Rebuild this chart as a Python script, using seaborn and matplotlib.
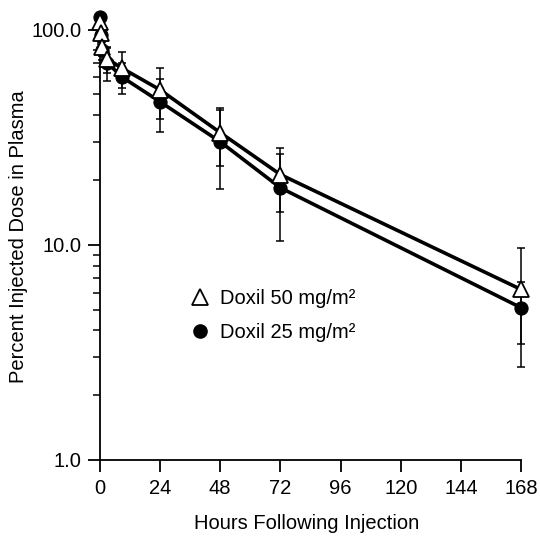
import matplotlib
matplotlib.use("Agg")
import matplotlib.pyplot as plt
from matplotlib.lines import Line2D
from matplotlib.ticker import FixedLocator, NullFormatter
import pandas as pd
import seaborn as sns

# values
hours = [0, 0.5, 1, 3, 9, 24, 48, 72, 168]
dose50_mean = [108, 96, 83, 73, 66, 52.5, 33.2, 21.2, 6.2]
dose50_sd = [8, 8, 8, 10, 12.5, 14, 10, 7, 3.5]
dose25_mean = [114, 94, 80, 70, 60, 46.2, 30.1, 18.4, 5.1]
dose25_sd = [6, 8, 8, 12, 10, 12.7, 12, 8, 1.65]

x_ticks = [0, 24, 48, 72, 96, 120, 144, 168]
y_ticks = [1, 10, 100]
y_ticklabels = ["1.0", "10.0", "100.0"]
y_minor = [2, 3, 4, 5, 6, 7, 8, 9, 20, 30, 40, 50, 60, 70, 80, 90]
labels = ["Doxil 50 mg/m\u00b2", "Doxil 25 mg/m\u00b2"]

df50 = pd.DataFrame({"hours": hours, "pct": dose50_mean, "sd": dose50_sd})
df25 = pd.DataFrame({"hours": hours, "pct": dose25_mean, "sd": dose25_sd})

sns.set_style("ticks")
plt.rcParams["font.family"] = ["Liberation Sans", "DejaVu Sans"]
plt.rcParams["text.color"] = "black"
plt.rcParams["axes.labelcolor"] = "black"

fig = plt.figure(figsize=(5.4, 5.38), dpi=100)
ax = fig.add_axes([0.185, 0.145, 0.78, 0.80])

# error bars first so the markers sit on top
for d in (df50, df25):
    ax.errorbar(d["hours"], d["pct"], yerr=d["sd"], fmt="none", ecolor="black",
                elinewidth=1.1, capsize=3, capthick=1.1, zorder=2, clip_on=False)

sns.lineplot(data=df50, x="hours", y="pct", ax=ax, color="black", linewidth=2.6,
             marker="^", markersize=11, markerfacecolor="white",
             markeredgecolor="black", markeredgewidth=1.3, zorder=4, clip_on=False)
sns.lineplot(data=df25, x="hours", y="pct", ax=ax, color="black", linewidth=2.6,
             marker="o", markersize=9.5, markerfacecolor="black",
             markeredgecolor="black", zorder=3, clip_on=False)

ax.set_yscale("log")
ax.set_xlim(0, 168)
ax.set_ylim(1, 100)
ax.xaxis.set_major_locator(FixedLocator(x_ticks))
ax.set_xticklabels([str(t) for t in x_ticks])
ax.yaxis.set_major_locator(FixedLocator(y_ticks))
ax.set_yticklabels(y_ticklabels)
ax.yaxis.set_minor_locator(FixedLocator(y_minor))
ax.yaxis.set_minor_formatter(NullFormatter())

sns.despine(ax=ax)
for s in ("left", "bottom"):
    ax.spines[s].set_linewidth(1.3)
    ax.spines[s].set_color("black")
ax.tick_params(axis="both", which="major", direction="out", length=8.5, width=1.3,
               labelsize=14.5, colors="black", pad=5)
ax.tick_params(axis="y", which="minor", direction="out", length=5, width=1.1,
               colors="black")

ax.set_xlabel("Hours Following Injection", fontsize=14.5)
ax.set_ylabel("Percent Injected Dose in Plasma", fontsize=14.5)
ax.xaxis.set_label_coords(0.49, -0.125)
ax.yaxis.set_label_coords(-0.17, 0.52)

handles = [
    Line2D([], [], linestyle="none", marker="^", markersize=11, markerfacecolor="white",
           markeredgecolor="black", markeredgewidth=1.3),
    Line2D([], [], linestyle="none", marker="o", markersize=9.5, markerfacecolor="black",
           markeredgecolor="black"),
]
ax.legend(handles, labels, loc="center left", bbox_to_anchor=(0.17, 0.335),
          frameon=False, fontsize=14.5, handlelength=1.0, handletextpad=0.5,
          labelspacing=0.75, labelcolor="black")

fig.savefig("out.png", dpi=100)
